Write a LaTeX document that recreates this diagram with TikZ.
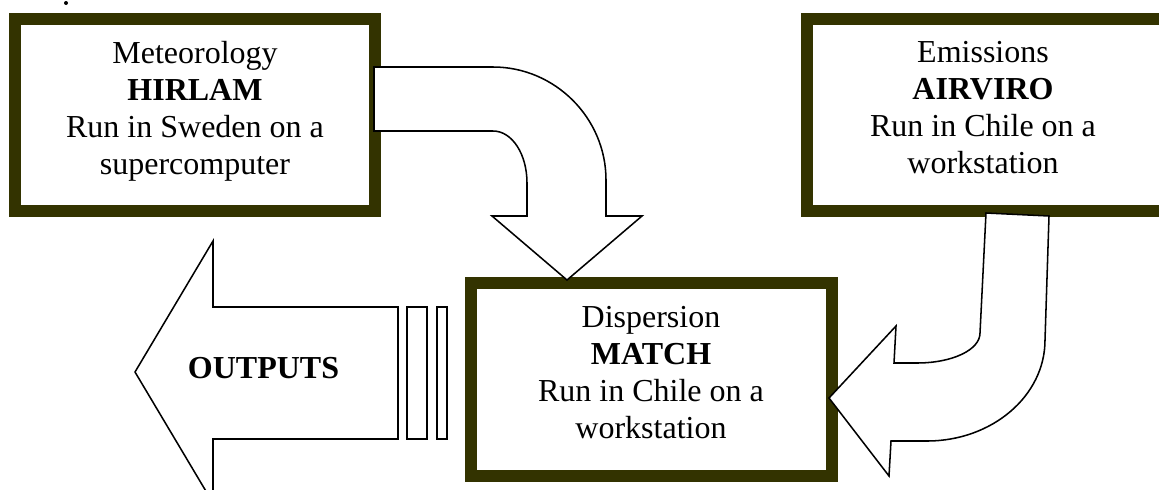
\documentclass[tikz,border=0pt]{standalone}
\usepackage{fontspec}
\setmainfont{Liberation Serif}
\definecolor{boxol}{RGB}{51,51,0}
\begin{document}
\begin{tikzpicture}[x=0.75pt,y=-0.75pt,
  frame/.style={draw=boxol, line width=9pt, fill=white, inner sep=0pt},
  bigarrow/.style={draw=black, fill=white, line width=1.15pt, line join=miter},
  lbl/.style={align=center, inner sep=0pt, anchor=north, font=\fontsize{24}{27.75}\selectfont}]
\useasboundingbox (0,0) rectangle (1159,489);
\clip (0,0) rectangle (1159,489);
% boxes
\node[frame, minimum width=270pt, minimum height=144pt] (met) at (195,115) {};
\node[frame, minimum width=270pt, minimum height=144pt] (emi) at (987,115) {};
\node[frame, minimum width=270.75pt, minimum height=144.75pt] (disp) at (651.5,379.5) {};
% stray dot
\fill (66,3) circle (2);
% curved arrow HIRLAM -> MATCH
\draw[bigarrow] (374,67) -- (493,67) .. controls (555,67) and (606,118) .. (606,180)
  -- (606,216) -- (642,216) -- (567,280) coordinate (tipA) -- (492,216) -- (527,216) -- (527,183)
  .. controls (527,154) and (512,131) .. (493,131) -- (374,131) -- cycle;
% curved arrow AIRVIRO -> MATCH
\draw[bigarrow] (986,213) -- (980,333) .. controls (980,350) and (952,363) .. (917,363)
  -- (894,363) -- (896,326) -- (829,398) coordinate (tipB) -- (889,476) -- (891,441) -- (927,441)
  .. controls (992,441) and (1045,396) .. (1045,340) -- (1049,216) -- cycle;
% outputs arrow
\draw[bigarrow] (398,307) -- (213,307) -- (213,241) -- (135,372) coordinate (tipC) -- (213,503)
  -- (213,439) -- (398,439) -- cycle;
\draw[bigarrow] (407,307) rectangle (427,439);
\draw[bigarrow] (437,307) rectangle (447,439);
% texts
\node[lbl] (metT) at (195,41) {Meteorology\\\textbf{HIRLAM}\\Run in Sweden on a\\supercomputer};
\node[lbl] (emiT) at (983,41) {Emissions\\\textbf{AIRVIRO}\\Run in Chile on a\\workstation};
\node[lbl] (dispT) at (651,306) {Dispersion\\\textbf{MATCH}\\Run in Chile on a\\workstation};
\node[anchor=base, inner sep=0pt, font=\fontsize{24}{27.75}\selectfont\bfseries] (outT) at (263.5,378) {OUTPUTS};
\end{tikzpicture}
\end{document}
